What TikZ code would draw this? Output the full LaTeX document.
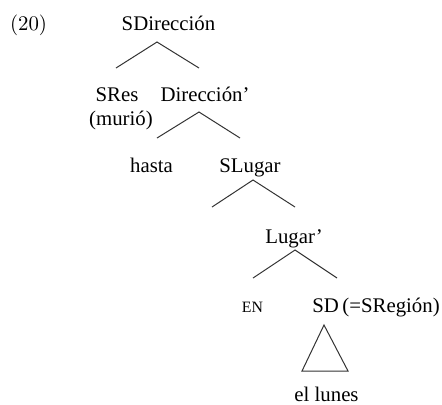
\documentclass[tikz,border=0pt]{standalone}
\usepackage{fontspec}
\newfontfamily\tnr{Liberation Serif}
\begin{document}
\begin{tikzpicture}[x=0.5pt,y=-0.5pt,
  lbl/.style={inner sep=0pt, anchor=base, font=\tnr\fontsize{10.4}{12}\selectfont},
  smlbl/.style={inner sep=0pt, anchor=base, font=\tnr\fontsize{7.9}{9}\selectfont},
  edge/.style={line width=0.5pt, draw=black!80}]
\useasboundingbox (0,0) rectangle (442,404);
\node[inner sep=0pt, anchor=base, font=\fontsize{10.4}{12}\selectfont] (ex) at (28.5,30) {(20)};
\node[lbl] (sdir) at (168.5,30) {SDirección};
\node[lbl] (sres) at (117,101) {SRes};
\node[lbl] (murio) at (121,125) {(murió)};
\node[lbl] (dirb) at (205,101) {Dirección’};
\node[lbl] (hasta) at (151.5,172) {hasta};
\node[lbl] (slug) at (250,172) {SLugar};
\node[lbl] (lugb) at (294,243) {Lugar’};
\node[smlbl] (en) at (252.5,312) {EN};
\node[lbl, anchor=base west] (sd) at (312,312) {SD\,(=SRegión)};
\node[lbl] (lunes) at (326.5,401) {el lunes};
% edge endpoints
\coordinate (a1) at (157,42);
\coordinate (l1) at (116,68);
\coordinate (r1) at (199,68);
\coordinate (a2) at (199,112);
\coordinate (l2) at (157,138);
\coordinate (r2) at (240,138);
\coordinate (a3) at (253,180);
\coordinate (l3) at (212,207);
\coordinate (r3) at (295,207);
\coordinate (a4) at (295,250);
\coordinate (l4) at (253,278);
\coordinate (r4) at (337,278);
\coordinate (t1) at (324,325);
\coordinate (t2) at (302,371);
\coordinate (t3) at (348,371);
\draw[edge] (l1) -- (a1) -- (r1);
\draw[edge] (l2) -- (a2) -- (r2);
\draw[edge] (l3) -- (a3) -- (r3);
\draw[edge] (l4) -- (a4) -- (r4);
\draw[edge] (t1) -- (t2) -- (t3) -- cycle;
\end{tikzpicture}
\end{document}
